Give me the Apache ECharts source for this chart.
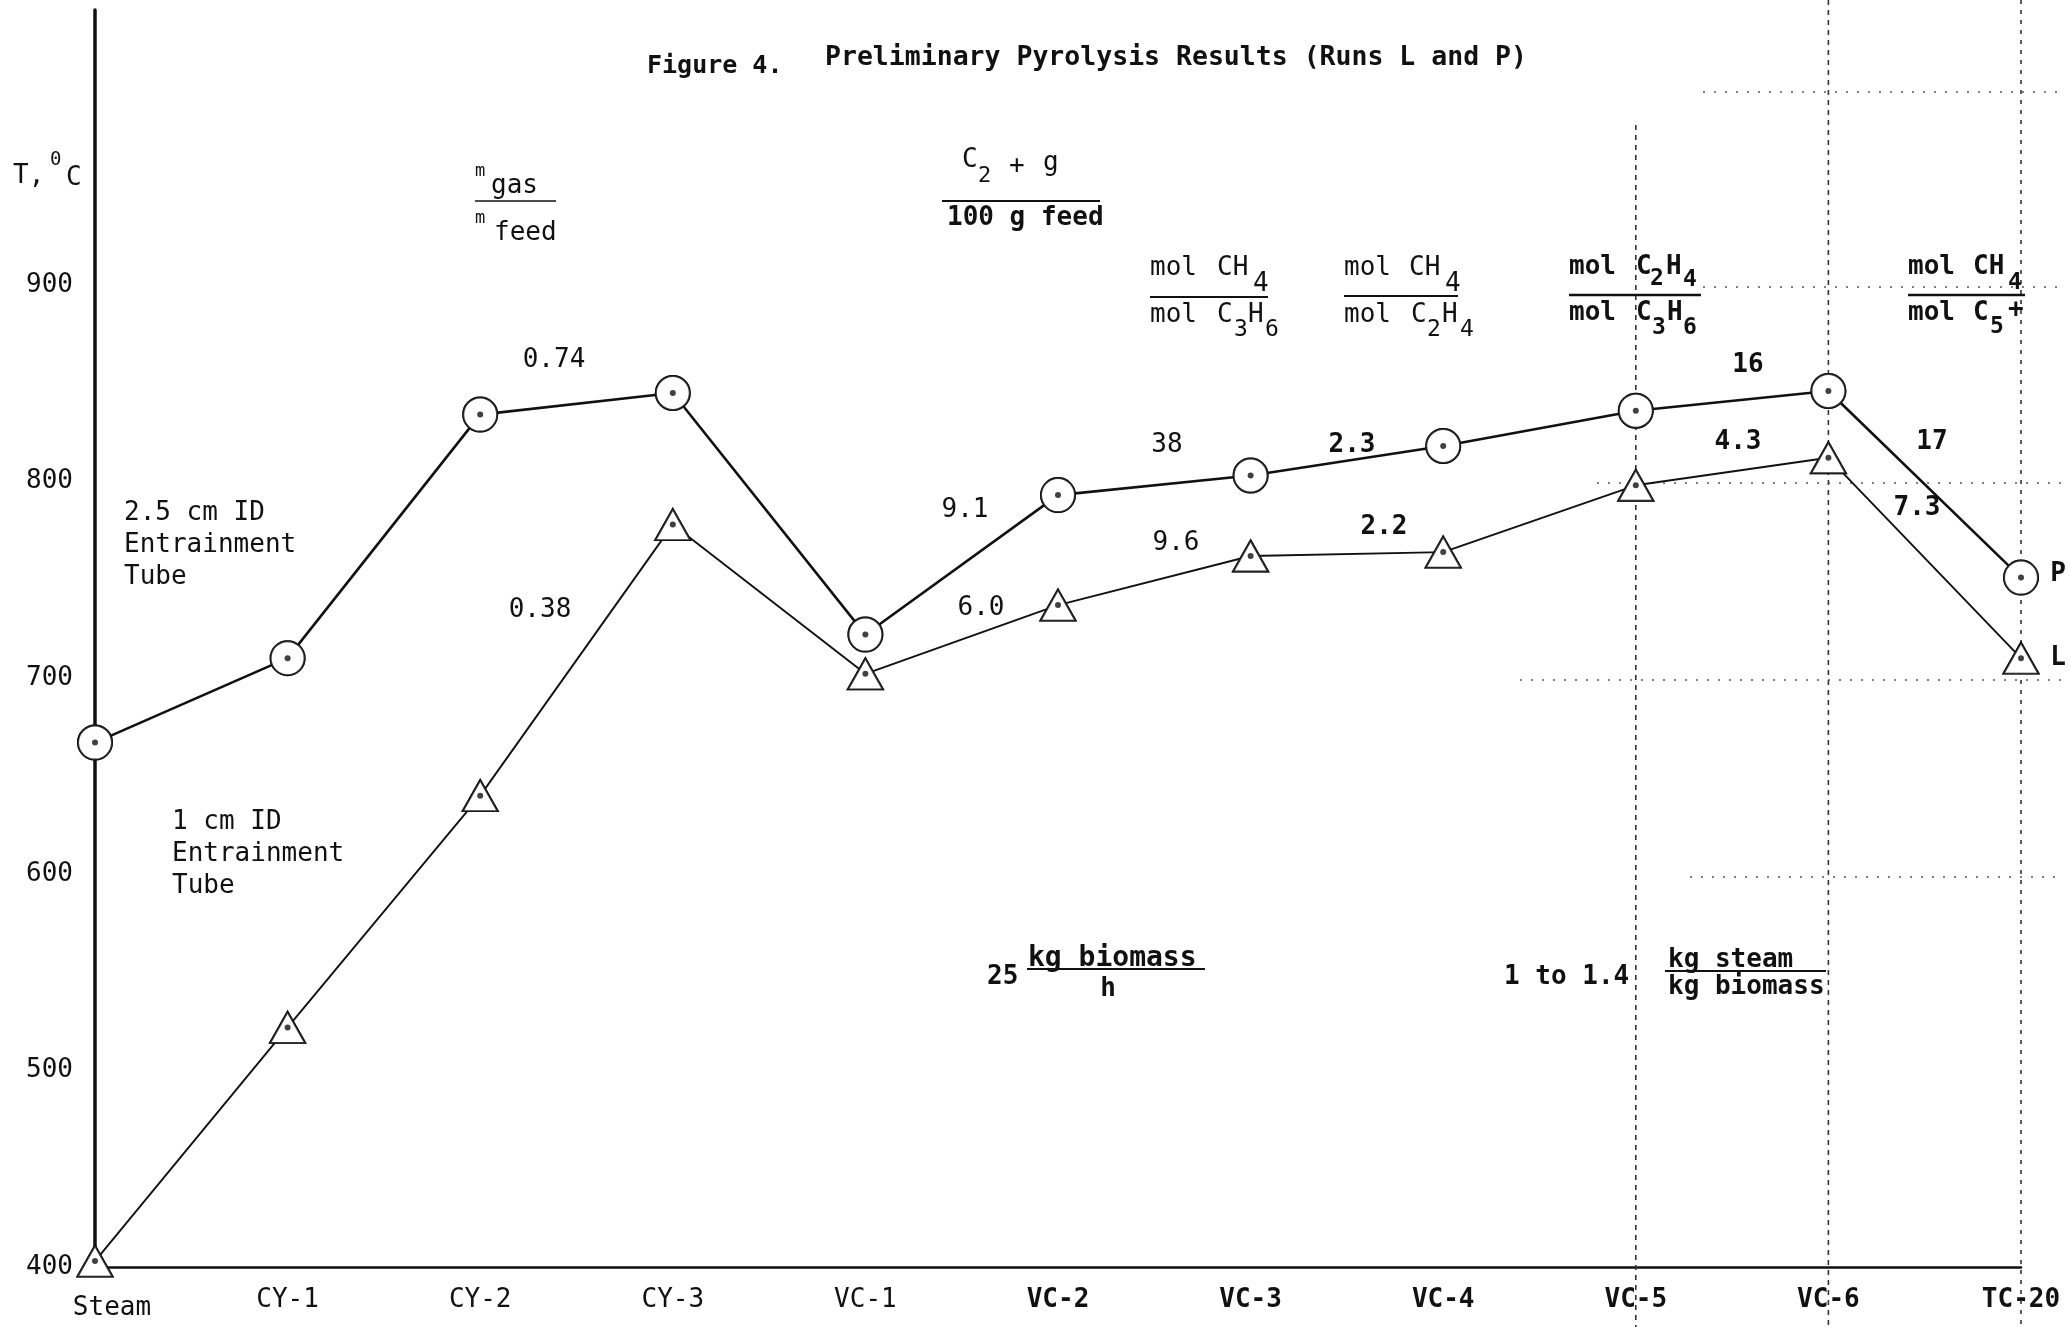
<!DOCTYPE html>
<html><head><meta charset="utf-8">
<script src="https://cdn.jsdelivr.net/npm/echarts@6/dist/echarts.min.js"></script>
<style>html,body{margin:0;padding:0;background:#fff}#c{width:2070px;height:1327px}</style>
</head><body><div id="c"></div>
<script>
// ---- data ----
const categories = ['Steam','CY-1','CY-2','CY-3','VC-1','VC-2','VC-3','VC-4','VC-5','VC-6','TC-20'];
const runP = [667, 710, 834, 845, 722, 793, 803, 818, 836, 846, 751];   // 2.5 cm ID tube (circles)
const runL = [403, 522, 640, 778, 702, 737, 762, 764, 798, 812, 710];   // 1 cm ID tube (triangles)
const yTickValues = [400, 500, 600, 700, 800, 900];
const labelsP = ['0.74', '9.1', '38', '2.3', '16', '17'];
const labelsL = ['0.38', '6.0', '9.6', '2.2', '4.3', '7.3'];
const figNo = 'Figure 4.';
const titleText = 'Preliminary Pyrolysis Results (Runs L and P)';
const tubeP = ['2.5 cm ID', 'Entrainment', 'Tube'];
const tubeL = ['1 cm ID', 'Entrainment', 'Tube'];

const INK = '#111';
const FONT = '"DejaVu Sans Mono","Liberation Mono",monospace';
const chart = echarts.init(document.getElementById('c'), null, {renderer: 'canvas'});

const option = {
  animation: false,
  backgroundColor: '#fff',
  grid: {left: 95, right: 49, top: 10, bottom: 60},
  xAxis: {
    type: 'category', data: categories, boundaryGap: false,
    axisLine: {lineStyle: {color: INK, width: 2.5}},
    axisTick: {show: false}, splitLine: {show: false},
    axisLabel: {
      margin: 20, fontSize: 26, fontFamily: FONT, color: INK,
      formatter: (v, i) => i === 0 ? '{s|' + v + '}' : (i >= 5 ? '{b|' + v + '}' : v),
      rich: {
        s: {fontSize: 26, fontFamily: FONT, color: INK, padding: [8, 0, 0, 34]},
        b: {fontSize: 26, fontFamily: FONT, color: INK, fontWeight: 'bold'}
      }
    }
  },
  yAxis: {
    type: 'value', min: 400, max: 1040, interval: 100,
    axisLine: {show: true, lineStyle: {color: INK, width: 3.5}},
    axisTick: {show: false}, splitLine: {show: false},
    axisLabel: {margin: 22, fontSize: 26, fontFamily: FONT, color: INK,
      formatter: v => yTickValues.includes(v) ? String(v) : ''}
  },
  series: [
    {type: 'line', name: 'P', data: runP, clip: false, z: 3,
     symbol: 'emptyCircle', symbolSize: 34,
     lineStyle: {color: INK, width: 2.6},
     itemStyle: {color: INK, borderColor: INK, borderWidth: 3.2}},
    {type: 'line', name: 'L', data: runL, clip: false, z: 3,
     symbol: 'emptyTriangle', symbolSize: [35, 31],
     lineStyle: {color: INK, width: 1.9},
     itemStyle: {color: INK, borderColor: INK, borderWidth: 3}},
    // thicker marker outlines drawn on top
    {type: 'scatter', data: runP, clip: false, z: 4, symbol: 'emptyCircle', symbolSize: 34,
     itemStyle: {color: INK, borderColor: INK, borderWidth: 3}},
    {type: 'scatter', data: runL, clip: false, z: 4, symbol: 'emptyTriangle', symbolSize: [35, 31],
     itemStyle: {color: INK, borderColor: INK, borderWidth: 3}},
    {type: 'scatter', data: runP, clip: false, z: 5, symbol: 'circle', symbolSize: 6, itemStyle: {color: INK}},
    {type: 'scatter', data: runL, clip: false, z: 5, symbol: 'circle', symbolSize: 6, itemStyle: {color: INK}}
  ]
};
chart.setOption(option);

// ---- annotations ----
function T(x, y, text, o) {
  o = o || {};
  return {type: 'text', x: x, y: y, z: 20, silent: true,
    style: {text: text, fill: INK, fontSize: o.size || 26, fontFamily: FONT,
      fontWeight: o.bold ? 'bold' : 'normal', align: o.align || 'left', verticalAlign: 'middle'}};
}
function L(x1, y1, x2, y2, o) {
  o = o || {};
  return {type: 'line', z: o.z || 20, silent: true, shape: {x1: x1, y1: y1, x2: x2, y2: y2},
    style: {stroke: o.color || INK, lineWidth: o.w || 2, lineDash: o.dash || null}};
}
const px = (i, v) => chart.convertToPixel({gridIndex: 0}, [i, v]);

const g = [];
// scan grid artefacts (dotted lines at the right)
const xv5 = px(8, 400)[0], xv6 = px(9, 400)[0], xt = px(10, 400)[0];
g.push(L(xv5, 125, xv5, 1327, {color: '#333', w: 1.6, dash: [5, 5], z: 1}));
g.push(L(xv6, 0, xv6, 1327, {color: '#333', w: 1.6, dash: [5, 5], z: 1}));
g.push(L(xt, 0, xt, 1327, {color: '#333', w: 1.6, dash: [4, 6], z: 1}));
[[92, 1703], [287, 1703], [483, 1597], [680, 1520], [877, 1690]].forEach(function (h) {
  g.push(L(h[1], h[0], 2062, h[0], {color: '#555', w: 1.5, dash: [2, 9], z: 1}));
});

// title
g.push(T(647, 66, figNo, {bold: true, size: 25}));
g.push(T(825, 58, titleText, {bold: true, size: 26.5}));
// y name
g.push(T(13, 176, 'T,'));
g.push(T(50, 160, '0', {size: 19}));
g.push(T(66, 178, 'C'));
// tube labels
tubeP.forEach((s, i) => g.push(T(124, 513 + i * 32, s)));
tubeL.forEach((s, i) => g.push(T(172, 822 + i * 32, s)));

// m_gas / m_feed
g.push(T(475, 172, 'm', {size: 17}));
g.push(T(491, 186, 'gas'));
g.push(L(475, 201, 556, 201, {w: 1.6}));
g.push(T(475, 219, 'm', {size: 17}));
g.push(T(494, 233, 'feed'));

// C2 + g / 100 g feed
g.push(T(962, 160, 'C'));
g.push(T(978, 176, '2', {size: 22}));
g.push(T(1009, 166, '+'));
g.push(T(1043, 163, 'g'));
g.push(L(942, 201, 1100, 201, {w: 1.8}));
g.push(T(947, 218, '100 g feed', {bold: true}));

// mol CH4 / mol C3H6
g.push(T(1150, 268, 'mol'), T(1217, 268, 'CH'), T(1253, 284, '4'));
g.push(L(1150, 297, 1268, 297));
g.push(T(1150, 315, 'mol'), T(1217, 315, 'C'), T(1234, 330, '3', {size: 23}), T(1248, 315, 'H'), T(1265, 330, '6', {size: 23}));
// mol CH4 / mol C2H4
g.push(T(1344, 268, 'mol'), T(1409, 268, 'CH'), T(1445, 284, '4'));
g.push(L(1344, 296, 1458, 296));
g.push(T(1344, 315, 'mol'), T(1411, 315, 'C'), T(1427, 330, '2', {size: 23}), T(1442, 315, 'H'), T(1460, 330, '4', {size: 23}));
// mol C2H4 / mol C3H6
g.push(T(1569, 267, 'mol', {bold: true}), T(1636, 267, 'C', {bold: true}), T(1650, 279, '2', {bold: true, size: 23}),
       T(1666, 267, 'H', {bold: true}), T(1683, 280, '4', {bold: true, size: 23}));
g.push(L(1569, 295, 1701, 295, {w: 2.4}));
g.push(T(1569, 313, 'mol', {bold: true}), T(1636, 313, 'C', {bold: true}), T(1652, 328, '3', {bold: true, size: 23}),
       T(1667, 313, 'H', {bold: true}), T(1683, 328, '6', {bold: true, size: 23}));
// mol CH4 / mol C5+
g.push(T(1908, 267, 'mol', {bold: true}), T(1973, 267, 'CH', {bold: true}), T(2008, 283, '4', {bold: true, size: 23}));
g.push(L(1908, 295, 2025, 295, {w: 2.4}));
g.push(T(1908, 313, 'mol', {bold: true}), T(1973, 313, 'C', {bold: true}), T(1990, 327, '5', {bold: true, size: 23}),
       T(2008, 310, '+', {bold: true}));

// segment values
const posP = [[554, 360], [965, 510], [1167, 445], [1352, 445], [1748, 365], [1932, 442]];
const posL = [[540, 610], [981, 608], [1176, 543], [1384, 527], [1738, 442], [1917, 508]];
labelsP.forEach((s, i) => g.push(T(posP[i][0], posP[i][1], s, {align: 'center', bold: i >= 3})));
labelsL.forEach((s, i) => g.push(T(posL[i][0], posL[i][1], s, {align: 'center', bold: i >= 3})));
g.push(T(2058, 574, 'P', {align: 'center', bold: true}));
g.push(T(2058, 658, 'L', {align: 'center', bold: true}));

// feed rate & steam ratio
g.push(T(987, 977, '25', {bold: true}));
g.push(T(1028, 959, 'kg biomass', {bold: true, size: 28}));
g.push(L(1027, 969, 1205, 969, {w: 2}));
g.push(T(1108, 989, 'h', {bold: true, align: 'center'}));
g.push(T(1504, 977, '1 to 1.4', {bold: true}));
g.push(T(1668, 960, 'kg steam', {bold: true}));
g.push(L(1665, 971, 1826, 971, {w: 2}));
g.push(T(1668, 987, 'kg biomass', {bold: true}));

chart.setOption({graphic: {elements: g}});
</script>
</body></html>
